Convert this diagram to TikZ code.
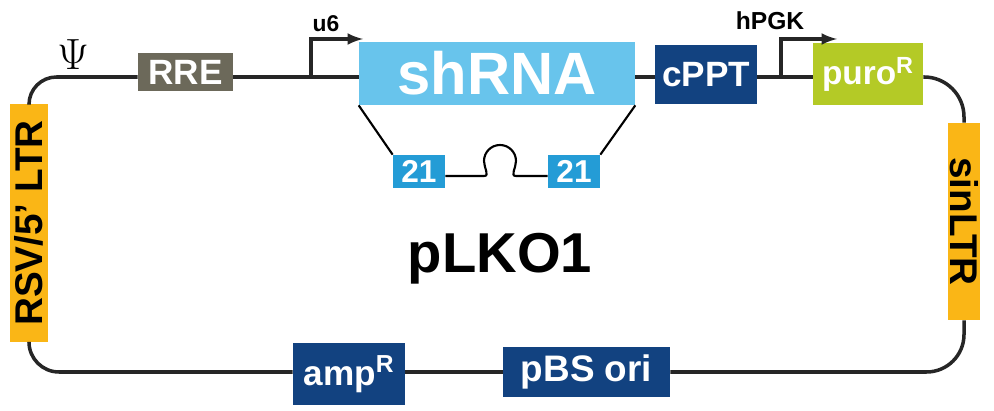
\documentclass[tikz,border=0pt]{standalone}
\usepackage{fontspec}
\setmainfont{Liberation Sans}
\usepackage{tikz}

\definecolor{rregray}{RGB}{108,105,90}
\definecolor{shblue}{RGB}{104,196,236}
\definecolor{darkblue}{RGB}{18,66,128}
\definecolor{purogreen}{RGB}{180,202,38}
\definecolor{ltrorange}{RGB}{250,182,22}
\definecolor{seqblue}{RGB}{36,156,214}

\tikzset{
  part/.style={inner sep=0pt, text=white, font=\bfseries\fontsize{20}{20}\selectfont},
  ltrbox/.style={part, fill=ltrorange, text=black, font=\bfseries\fontsize{22}{22}\selectfont},
  backbone/.style={line width=2pt, black!85},
  hairpin/.style={line width=1.2pt, black}
}

\begin{document}
\begin{tikzpicture}[x=0.02cm, y=-0.02cm]
		\useasboundingbox (0,0) rectangle (994,411);
		\coordinate (topline) at (0,77);
		\coordinate (botline) at (0,372);
		\coordinate (loopbase) at (0,176);
		% parts on top strand
		\node[part, fill=rregray, minimum width=1.9cm, minimum height=0.76cm, at={(185.5,72)}] (rre) {RRE};
		\node[part, fill=shblue, minimum width=5.52cm, minimum height=1.26cm, at={(497,73.5)}, font=\bfseries\fontsize{34}{34}\selectfont] (shrna) {shRNA};
		\node[part, fill=darkblue, minimum width=2.04cm, minimum height=1.18cm, at={(706,74.5)}] (cppt) {cPPT};
		\node[part, fill=purogreen, minimum width=2.2cm, minimum height=1.24cm, at={(868,74)}, font=\bfseries\fontsize{19}{19}\selectfont] (puro) {puro\textsuperscript{R}};
		% LTRs
		\node[ltrbox, minimum width=3.94cm, minimum height=0.64cm, rotate=-90, at={(964,221.5)}] (sinltr) {sinLTR};
		\node[ltrbox, minimum width=4.76cm, minimum height=0.76cm, rotate=90, at={(29,223)}] (rsv) {RSV/5' LTR};
		% bottom strand
		\node[part, fill=darkblue, minimum width=2.24cm, minimum height=1.24cm, at={(349,374)}] (amp) {amp\textsuperscript{R}};
		\node[part, fill=darkblue, minimum width=3.34cm, minimum height=1cm, at={(586.5,372)}, font=\bfseries\fontsize{21}{21}\selectfont] (pbs) {pBS ori};
		% hairpin
		\node[part, fill=seqblue, minimum width=1.04cm, minimum height=0.66cm, at={(419,171.5)}, font=\bfseries\fontsize{18}{18}\selectfont] (seqL) {21};
		\node[part, fill=seqblue, minimum width=1.04cm, minimum height=0.66cm, at={(574,171.5)}, font=\bfseries\fontsize{18}{18}\selectfont] (seqR) {21};
		\node[anchor=base, at={(500,273)}, font=\bfseries\fontsize{32}{32}\selectfont] (name) {pLKO1};
		% backbone
		\draw[backbone, rounded corners=0.55cm] (rsv.east) |- (rre.west |- topline);
		\draw[backbone] (rre.east |- topline) -- (shrna.west |- topline);
		\draw[backbone] (shrna.east |- topline) -- (cppt.west |- topline);
		\draw[backbone] (cppt.east |- topline) -- (puro.west |- topline);
		\draw[backbone, rounded corners=0.8cm] (puro.east |- topline) -| (sinltr.west);
		\draw[backbone, rounded corners=0.75cm] (sinltr.east) |- (pbs.east |- botline);
		\draw[backbone] (pbs.west |- botline) -- (amp.east |- botline);
		\draw[backbone, rounded corners=0.6cm] (amp.west |- botline) -| (rsv.west);
		% promoters
		\coordinate (u6tss) at (311,77);
		\coordinate (pgktss) at (781,77);
		\draw[backbone, -latex] (u6tss) -- ++(0,-38) -- ++(52,0);
		\draw[backbone, -latex] (pgktss) -- ++(0,-38) -- ++(56,0);
		\node[at={(326,24)}, font=\bfseries\fontsize{13}{13}\selectfont] (u6lab) {u6};
		\node[at={(770,21)}, font=\bfseries\fontsize{14}{14}\selectfont] (pgklab) {hPGK};
		\node[at={(73,55)}, font=\fontsize{24}{24}\selectfont] (psi) {$\Psi$};
		% stem-loop
		\draw[hairpin] (shrna.south west) -- (seqL.north west);
		\draw[hairpin] (shrna.south east) -- (seqR.north east);
		\draw[hairpin] (seqL.east |- loopbase) -- (484,176) .. controls (490,176) and (484,168) .. (484,161) arc[start angle=180, end angle=360, radius=16] .. controls (516,168) and (510,176) .. (516,176) -- (seqR.west |- loopbase);
\end{tikzpicture}
\end{document}
